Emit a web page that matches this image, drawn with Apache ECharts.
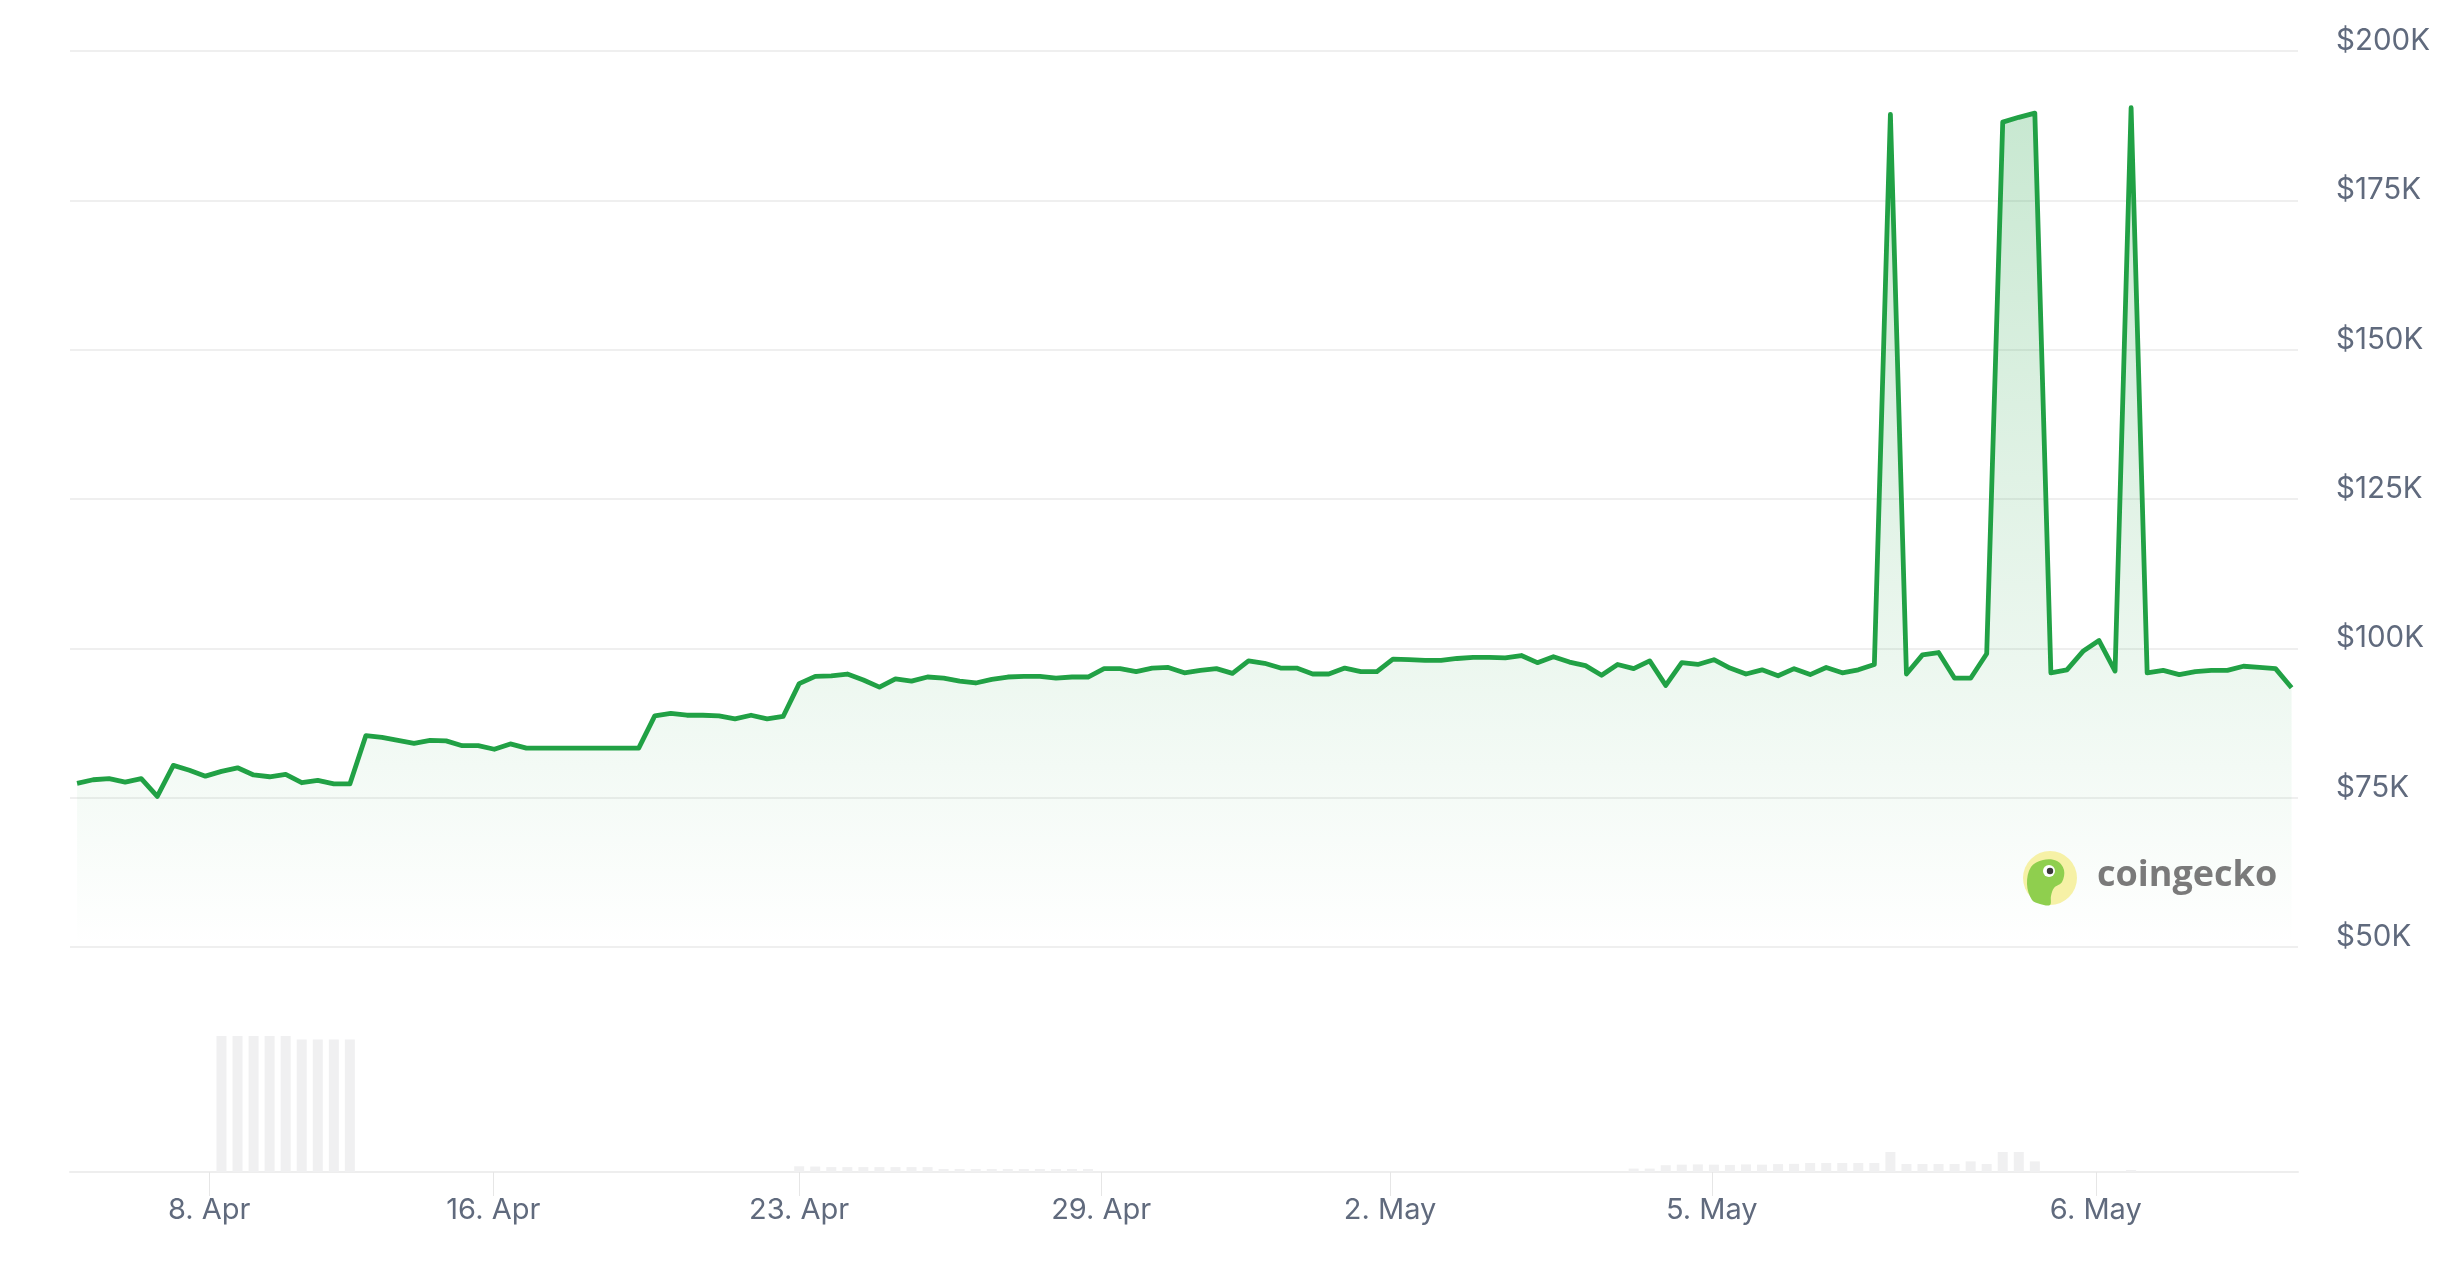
<!DOCTYPE html>
<html><head><meta charset="utf-8">
<script src="https://cdn.jsdelivr.net/npm/echarts@6/dist/echarts.min.js"></script>
<style>html,body{margin:0;padding:0;background:#fff}#c{width:2458px;height:1270px}</style>
</head><body><div id="c"></div>
<script>
// price per point (USD), ordinal (equally spaced) points
const prices = [77400,78000,78200,77600,78200,75200,80400,79600,78600,79400,
80000,78800,78500,78900,77500,77900,77300,77300,85400,85100,
84600,84100,84600,84500,83700,83700,83100,84000,83300,83300,
83300,83300,83300,83300,83300,83300,88700,89100,88800,88800,
88700,88200,88800,88200,88600,94100,95300,95400,95700,94700,
93500,94900,94500,95200,95000,94500,94200,94800,95200,95300,
95300,95000,95200,95200,96600,96600,96100,96700,96800,95900,
96300,96600,95800,97900,97500,96700,96700,95700,95700,96700,
96100,96100,98200,98100,98000,98000,98300,98500,98500,98400,
98800,97600,98600,97700,97100,95500,97300,96600,97900,93800,
97600,97300,98100,96700,95700,96400,95400,96600,95600,96800,
95900,96400,97300,189400,95700,98900,99300,95000,95000,99100,
188100,188900,189600,95900,96400,99500,101300,96200,190500,95900,
96300,95600,96100,96300,96300,97000,96800,96600,93400];

// relative volume per point (largest = 100)
const volumes = [0,0,0,0,0,0,0,0,0,100,
100,100,100,100,97.5,97.5,97.5,97.5,0,0,
0,0,0,0,0,0,0,0,0,0,
0,0,0,0,0,0,0,0,0,0,
0,0,0,0,0,4.2,4.0,3.6,3.6,3.6,
3.6,3.6,3.6,3.6,2.2,2.2,2.2,2.2,2.2,2.2,
2.2,2.2,2.2,2.2,0,0,0,0,0,0,
0,0,0,0,0,0,0,0,0,0,
0,0,0,0,0,0,0,0,0,0,
0,0,0,0,0,0,0,2.5,2.5,5.0,
5.4,5.6,5.4,5.2,5.6,5.4,5.8,6.0,6.6,6.6,
6.6,6.6,6.6,14.7,5.9,5.9,5.9,5.9,7.8,5.9,
14.7,14.7,7.8,0,0,0,0,0,1.5,0,
0,0,0,0,0,0,0,0,0];

// date ticks (position in point index units) and their labels
const tickPositions = [8.23, 25.94, 44.99, 63.82, 81.82, 101.87, 125.8];
const tickLabels = ['8. Apr', '16. Apr', '23. Apr', '29. Apr', '2. May', '5. May', '6. May'];

const priceMin = 50000, priceMax = 200000, priceStep = 25000;

const GREEN = '#21a145';
const LABEL = '#606a7d';
const FONT = 'Inter, "Noto Sans", sans-serif';

const xMin = -0.44, xMax = prices.length - 1 + 0.4;

const chart = echarts.init(document.getElementById('c'), null, {renderer: 'canvas'});
chart.setOption({
  animation: false,
  backgroundColor: '#ffffff',
  grid: [
    {left: 70, right: 160, top: 51, height: 896},
    {left: 70, right: 160, top: 1036, height: 136}
  ],
  xAxis: [
    {gridIndex: 0, type: 'value', min: xMin, max: xMax, show: false},
    {gridIndex: 1, type: 'value', min: xMin, max: xMax,
      axisLine: {show: true, lineStyle: {color: '#eeeeee', width: 2}},
      splitLine: {show: false},
      axisTick: {show: true, customValues: tickPositions, length: 24, lineStyle: {color: '#e6e6e6', width: 1}},
      axisLabel: {
        customValues: tickPositions, margin: 38, verticalAlign: 'middle',
        color: LABEL, fontSize: 29, fontFamily: FONT,
        formatter: function (v) {
          let best = 0, d = Infinity;
          tickPositions.forEach((p, k) => { if (Math.abs(p - v) < d) { d = Math.abs(p - v); best = k; } });
          return tickLabels[best];
        }
      }
    }
  ],
  yAxis: [
    {gridIndex: 0, type: 'value', position: 'right', min: priceMin, max: priceMax, interval: priceStep,
      axisLine: {show: false}, axisTick: {show: false},
      splitLine: {show: true, lineStyle: {color: '#efefef', width: 2}},
      axisLabel: {margin: 38, color: LABEL, fontSize: 29.5, fontFamily: FONT, verticalAlign: 'bottom',
        lineHeight: 20,
        formatter: v => '$' + (v / 1000) + 'K'}
    },
    {gridIndex: 1, type: 'value', min: 0, max: 100, show: false}
  ],
  series: [
    {type: 'bar', xAxisIndex: 1, yAxisIndex: 1, barWidth: 10,
      itemStyle: {color: '#f0f0f1'},
      data: volumes.map((v, i) => [i, v])},
    {type: 'line', xAxisIndex: 0, yAxisIndex: 0, symbol: 'none', smooth: false,
      lineStyle: {color: GREEN, width: 4.8, join: 'round'},
      areaStyle: {color: new echarts.graphic.LinearGradient(0, 0, 0, 1, [
        {offset: 0, color: 'rgba(35,163,71,0.36)'},
        {offset: 1, color: 'rgba(35,163,71,0.0)'}
      ])},
      data: prices.map((v, i) => [i, v]), z: 3}
  ],
  graphic: [
    {type: 'circle', z: 100, shape: {cx: 2050, cy: 878, r: 27}, style: {fill: '#f6f1a6'}},
    {type: 'polygon', z: 101, shape: {smooth: 0.35, points: [
      [2032, 900], [2027, 884], [2031, 867], [2043, 860], [2057, 861], [2064, 870],
      [2062, 882], [2054, 888], [2051, 896], [2050, 905], [2040, 904]
    ]}, style: {fill: '#8fcf4e'}},
    {type: 'circle', z: 102, shape: {cx: 2049, cy: 871, r: 6}, style: {fill: '#ffffff'}},
    {type: 'circle', z: 103, shape: {cx: 2050, cy: 871, r: 3.2}, style: {fill: '#3a3a3a'}},
    {type: 'text', z: 100, x: 2097, y: 876,
      style: {text: 'coingecko', fontFamily: '"Open Sans", sans-serif', fontWeight: 'bold', fontSize: 36,
        fill: '#7a7a7a', textVerticalAlign: 'middle', verticalAlign: 'middle'}}
  ]
});
</script>
</body></html>
